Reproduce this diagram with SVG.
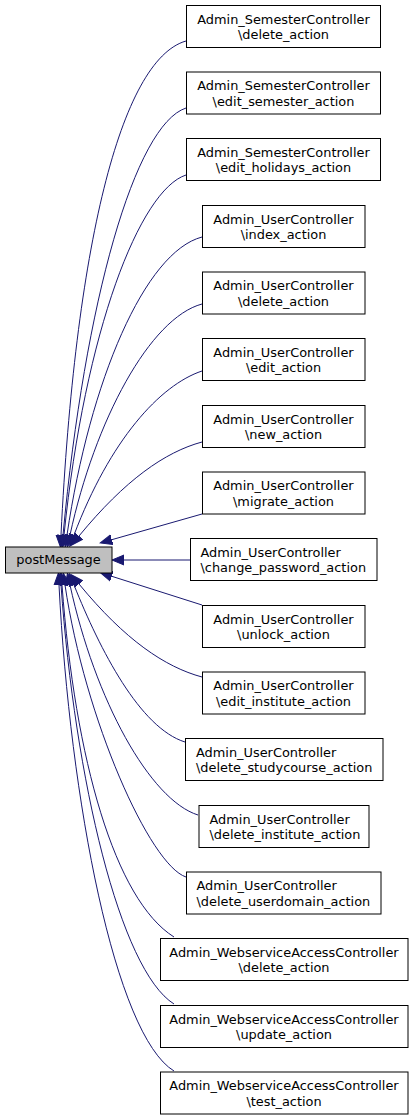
<svg xmlns="http://www.w3.org/2000/svg" width="413" height="1120" viewBox="0 0 413 1120">
<style>
  .n rect { fill: #ffffff; stroke: #000000; stroke-width: 1; }
  .n text, .main text { font-family: "DejaVu Sans", "Liberation Sans", sans-serif; font-size: 12.9px; fill: #000000; }
  .c { text-anchor: middle; }
  .main rect { fill: #bfbfbf; stroke: #000000; stroke-width: 1; }
  .edges path { fill: none; stroke: #191970; stroke-width: 1; }
</style>
<defs>
  <marker id="ah" markerUnits="userSpaceOnUse" markerWidth="14" markerHeight="12" refX="0" refY="5" orient="auto" viewBox="0 0 14 10">
    <path d="M0,0 L12,5 L0,10 z" fill="#191970" stroke="#191970" stroke-width="1"/>
  </marker>
</defs>
<rect width="413" height="1120" fill="#ffffff"/>

<g class="edges">
  <path marker-end="url(#ah)" d="M186,41 C120,60 75,250 61,535"/>
  <path marker-end="url(#ah)" d="M186,108 C135,125 85,300 63,535"/>
  <path marker-end="url(#ah)" d="M186,175 C140,190 85,330 64,535"/>
  <path marker-end="url(#ah)" d="M202,237 C145,252 90,380 67,535"/>
  <path marker-end="url(#ah)" d="M202,304 C150,318 95,420 70,535"/>
  <path marker-end="url(#ah)" d="M202,371 C160,385 110,440 74,535"/>
  <path marker-end="url(#ah)" d="M202,442 C165,452 125,480 79,536"/>
  <path marker-end="url(#ah)" d="M202,514 L111.8,539.7"/>
  <path marker-end="url(#ah)" d="M190,560 L124,560"/>
  <path marker-end="url(#ah)" d="M202,605 L111.8,576.3"/>
  <path marker-end="url(#ah)" d="M202,677 C165,667 125,640 79,584"/>
  <path marker-end="url(#ah)" d="M185,742 C140,728 100,650 74,585"/>
  <path marker-end="url(#ah)" d="M198,815 C150,800 95,700 70,585"/>
  <path marker-end="url(#ah)" d="M186,877 C150,865 85,720 65,585"/>
  <path marker-end="url(#ah)" d="M174,937 C115,900 75,760 62,585"/>
  <path marker-end="url(#ah)" d="M174,1004 C120,970 75,780 61,585"/>
  <path marker-end="url(#ah)" d="M174,1071 C115,1035 70,800 59,585"/>
</g>

<g id="postMessage" class="main">
  <rect x="5.5" y="547" width="106.5" height="26"/>
  <text x="58.5" y="564" text-anchor="middle">postMessage</text>
</g>

<g id="sem_delete" class="n">
  <rect x="186.5" y="5.5" width="194" height="42"/>
  <text class="c" x="283.5" y="23.5">Admin_SemesterController</text>
  <text class="c" x="283.5" y="39">\delete_action</text>
</g>
<g id="sem_edit_semester" class="n">
  <rect x="186.5" y="72" width="194" height="42"/>
  <text class="c" x="283.5" y="90">Admin_SemesterController</text>
  <text class="c" x="283.5" y="105.5">\edit_semester_action</text>
</g>
<g id="sem_edit_holidays" class="n">
  <rect x="186.5" y="138.5" width="194" height="42"/>
  <text class="c" x="283.5" y="156.5">Admin_SemesterController</text>
  <text class="c" x="283.5" y="172">\edit_holidays_action</text>
</g>
<g id="user_index" class="n">
  <rect x="202.5" y="205.5" width="162.5" height="42"/>
  <text class="c" x="283.5" y="223.5">Admin_UserController</text>
  <text class="c" x="283.5" y="239">\index_action</text>
</g>
<g id="user_delete" class="n">
  <rect x="202.5" y="272" width="162.5" height="42"/>
  <text class="c" x="283.5" y="290">Admin_UserController</text>
  <text class="c" x="283.5" y="305.5">\delete_action</text>
</g>
<g id="user_edit" class="n">
  <rect x="202.5" y="338.5" width="162.5" height="42"/>
  <text class="c" x="283.5" y="356.5">Admin_UserController</text>
  <text class="c" x="283.5" y="372">\edit_action</text>
</g>
<g id="user_new" class="n">
  <rect x="202.5" y="405.5" width="162.5" height="42"/>
  <text class="c" x="283.5" y="423.5">Admin_UserController</text>
  <text class="c" x="283.5" y="439">\new_action</text>
</g>
<g id="user_migrate" class="n">
  <rect x="202.5" y="472" width="162.5" height="42"/>
  <text class="c" x="283.5" y="490">Admin_UserController</text>
  <text class="c" x="283.5" y="505.5">\migrate_action</text>
</g>
<g id="user_change_password" class="n">
  <rect x="190.5" y="538.5" width="186.5" height="42"/>
  <text x="200.5" y="556.5">Admin_UserController</text>
  <text x="200.5" y="572">\change_password_action</text>
</g>
<g id="user_unlock" class="n">
  <rect x="202.5" y="605.5" width="162.5" height="42"/>
  <text class="c" x="283.5" y="623.5">Admin_UserController</text>
  <text class="c" x="283.5" y="639">\unlock_action</text>
</g>
<g id="user_edit_institute" class="n">
  <rect x="202.5" y="672" width="162.5" height="42"/>
  <text class="c" x="283.5" y="690">Admin_UserController</text>
  <text class="c" x="283.5" y="705.5">\edit_institute_action</text>
</g>
<g id="user_delete_studycourse" class="n">
  <rect x="185.5" y="738.5" width="197.5" height="42"/>
  <text x="196" y="756.5">Admin_UserController</text>
  <text x="196" y="772">\delete_studycourse_action</text>
</g>
<g id="user_delete_institute" class="n">
  <rect x="199" y="805.5" width="170" height="42"/>
  <text x="209.5" y="823.5">Admin_UserController</text>
  <text x="209.5" y="839">\delete_institute_action</text>
</g>
<g id="user_delete_userdomain" class="n">
  <rect x="186.5" y="872" width="194.5" height="42"/>
  <text x="196.5" y="890">Admin_UserController</text>
  <text x="196.5" y="905.5">\delete_userdomain_action</text>
</g>
<g id="ws_delete" class="n">
  <rect x="160.5" y="938.5" width="247.5" height="42"/>
  <text class="c" x="284" y="956.5">Admin_WebserviceAccessController</text>
  <text class="c" x="284" y="972">\delete_action</text>
</g>
<g id="ws_update" class="n">
  <rect x="160.5" y="1005.5" width="247.5" height="42"/>
  <text class="c" x="284" y="1023.5">Admin_WebserviceAccessController</text>
  <text class="c" x="284" y="1039">\update_action</text>
</g>
<g id="ws_test" class="n">
  <rect x="160.5" y="1072" width="247.5" height="42"/>
  <text class="c" x="284" y="1090">Admin_WebserviceAccessController</text>
  <text class="c" x="284" y="1105.5">\test_action</text>
</g>
</svg>
